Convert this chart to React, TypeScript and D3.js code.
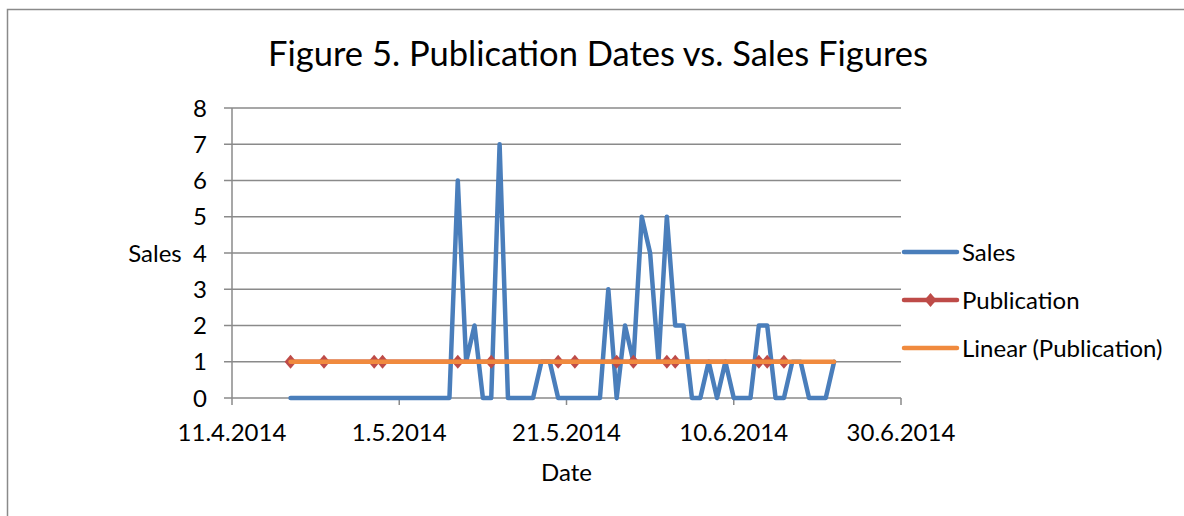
import React from "react";
import * as d3 from "d3";

// daily sales, 18.4.2014 - 22.6.2014
const salesStart = "2014-04-18";
const salesValues = [
    0, 0, 0, 0, 0, 0, 0, 0, 0, 0, 0, 0, 0, 0, 0, 0, 0, 0, 0, 0,
    6, 1, 2, 0, 0, 7, 0, 0, 0, 0, 1, 1, 0, 0, 0, 0, 0, 0,
    3, 0, 2, 1, 5, 4, 1, 5, 2, 2, 0, 0, 1, 0, 1, 0, 0, 0,
    2, 2, 0, 0, 1, 1, 0, 0, 0, 1
];

const publicationDates = [
    "2014-04-18", "2014-04-22", "2014-04-28", "2014-04-29", "2014-05-08",
    "2014-05-12", "2014-05-20", "2014-05-22", "2014-05-27", "2014-05-29",
    "2014-06-02", "2014-06-03", "2014-06-13", "2014-06-14", "2014-06-16"
];
const publicationValues = [1, 1, 1, 1, 1, 1, 1, 1, 1, 1, 1, 1, 1, 1, 1];

const xTicks = ["2014-04-11", "2014-05-01", "2014-05-21", "2014-06-10", "2014-06-30"];
const yTicks = [0, 1, 2, 3, 4, 5, 6, 7, 8];

const legendItems = ["Sales", "Publication", "Linear (Publication)"];

const parse = d3.timeParse("%Y-%m-%d");
const tickFormat = (d: Date) => `${d.getDate()}.${d.getMonth() + 1}.${d.getFullYear()}`;

const BLUE = "#4a7ebb";
const RED = "#be4b48";
const ORANGE = "#f08a3e";
const GRID = "#8a8a8a";
const FONT = "Lato, 'DejaVu Sans', sans-serif";

const width = 1184;
const height = 516;
const plot = {left: 232, right: 901, top: 108, bottom: 398};

export default function App() {
    const start = parse(salesStart)!;
    const sales = salesValues.map((v, i) => ({date: d3.timeDay.offset(start, i), value: v}));
    const pubs = publicationDates.map((d, i) => ({date: parse(d)!, value: publicationValues[i]}));

    const x = d3.scaleTime()
        .domain([parse(xTicks[0])!, parse(xTicks[xTicks.length - 1])!])
        .range([plot.left, plot.right]);
    const y = d3.scaleLinear().domain([0, 8]).range([plot.bottom, plot.top]);

    const line = d3.line<{date: Date; value: number}>()
        .x(d => x(d.date))
        .y(d => y(d.value));

    // least squares trend of the publication series, drawn over the sales date range
    const px = pubs.map(p => +p.date);
    const py = pubs.map(p => p.value);
    const mx = d3.mean(px)!;
    const my = d3.mean(py)!;
    const sxx = d3.sum(px, v => (v - mx) ** 2);
    const sxy = d3.sum(px.map((v, i) => (v - mx) * (py[i] - my)));
    const slope = sxx ? sxy / sxx : 0;
    const trendAt = (d: Date) => my + slope * (+d - mx);
    const [t0, t1] = d3.extent(sales, d => d.date) as [Date, Date];
    const trend = [t0, t1].map(d => ({date: d, value: trendAt(d)}));

    const diamond = (cx: number, cy: number) =>
        `M${cx},${cy - 7}L${cx + 6},${cy}L${cx},${cy + 7}L${cx - 6},${cy}Z`;

    return (
        <svg width={width} height={height}
             style={{position: "absolute", left: 0, top: 0, background: "#fff"}}
             fontFamily={FONT}>
            <rect x={7.5} y={9.5} width={1200} height={600} fill="#fff" stroke={GRID} strokeWidth={1.5}/>

            <text x={598} y={66} textAnchor="middle" fontSize={34.5} fill="#000">
                Figure 5. Publication Dates vs. Sales Figures
            </text>

            {yTicks.map(t => (
                <g key={t}>
                    <line x1={plot.left - 8} x2={plot.right} y1={y(t)} y2={y(t)}
                          stroke={GRID} strokeWidth={1.5}/>
                    <text x={207} y={y(t) + 8.5} textAnchor="end" fontSize={24}>{t}</text>
                </g>
            ))}
            <line x1={plot.left} x2={plot.left} y1={plot.top} y2={plot.bottom}
                  stroke={GRID} strokeWidth={1.5}/>

            {xTicks.map(t => {
                const d = parse(t)!;
                return (
                    <g key={t}>
                        <line x1={x(d)} x2={x(d)} y1={plot.bottom} y2={plot.bottom + 7}
                              stroke={GRID} strokeWidth={1.5}/>
                        <text x={x(d)} y={441} textAnchor="middle" fontSize={24}>{tickFormat(d)}</text>
                    </g>
                );
            })}

            <text x={155} y={262} textAnchor="middle" fontSize={24}>Sales</text>
            <text x={(plot.left + plot.right) / 2} y={481} textAnchor="middle" fontSize={24}>Date</text>

            <path d={line(sales)!} fill="none" stroke={BLUE} strokeWidth={4.5}
                  strokeLinejoin="round" strokeLinecap="round"/>
            <path d={line(pubs)!} fill="none" stroke={RED} strokeWidth={4.5} strokeLinejoin="round"/>
            {pubs.map(p => (
                <path key={+p.date} d={diamond(x(p.date), y(p.value))} fill={RED}/>
            ))}
            <path d={line(trend)!} fill="none" stroke={ORANGE} strokeWidth={4.5} strokeLinecap="round"/>

            {legendItems.map((name, i) => {
                const ly = 252 + i * 48;
                const color = [BLUE, RED, ORANGE][i];
                return (
                    <g key={name}>
                        <line x1={904} x2={957} y1={ly} y2={ly} stroke={color} strokeWidth={4.5}
                              strokeLinecap="round"/>
                        {i === 1 && <path d={diamond(930.5, ly)} fill={RED}/>}
                        <text x={962} y={ly + 8.5} fontSize={24}>{name}</text>
                    </g>
                );
            })}
        </svg>
    );
}
